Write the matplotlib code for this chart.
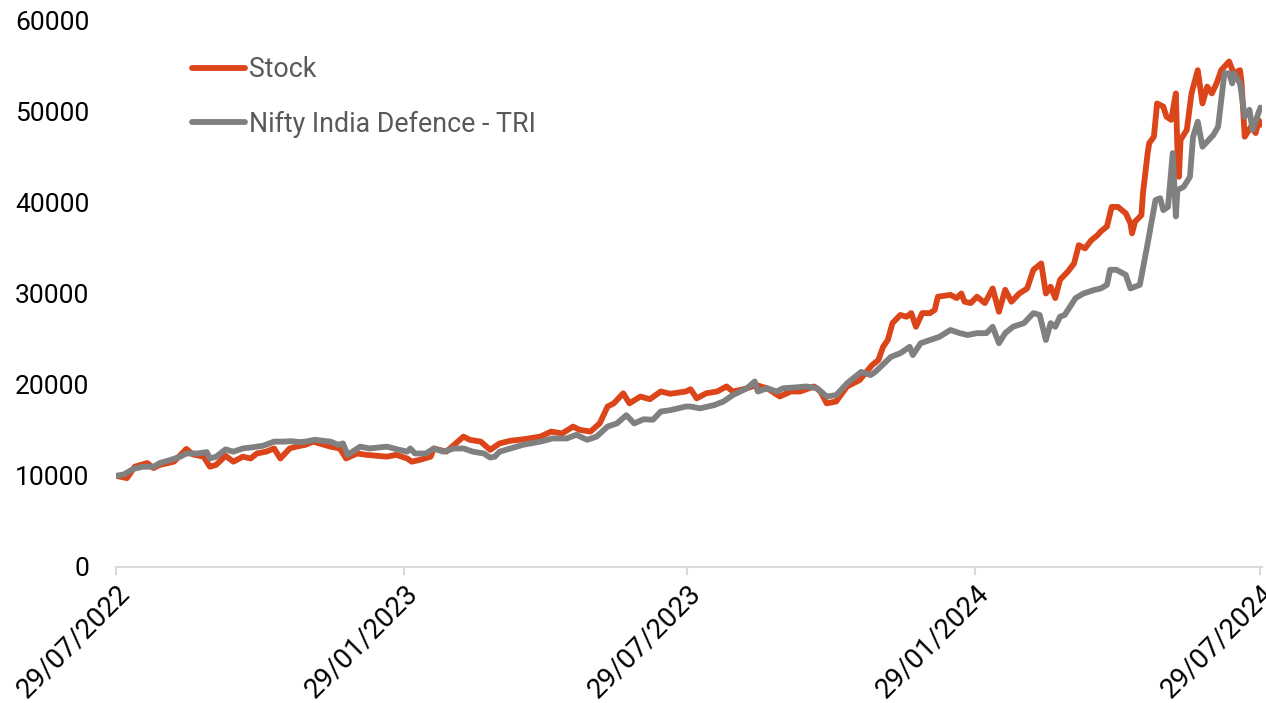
# Stock vs Nifty India Defence TRI, growth of 10000

import pandas as pd
import matplotlib.pyplot as plt
import matplotlib.dates as mdates

plt.rcParams['font.family'] = ['Roboto', 'DejaVu Sans']

start = pd.Timestamp('2022-07-29')

# days from start date, value of 10000 invested
stock_day = [0, 7, 12, 20, 24, 28, 37, 45, 49, 56, 60, 64, 70, 75, 81, 86, 90, 96, 101, 105,
             111, 115, 121, 126, 137, 143, 147, 154, 160, 173, 179, 186, 189, 194, 201, 203,
             211, 216, 222, 226, 233, 239, 245, 252, 260, 271, 278, 285, 292, 296, 303, 309,
             314, 318, 324, 328, 335, 341, 348, 354, 364, 367, 371, 377, 384, 390, 394, 401,
             409, 416, 424, 431, 437, 446, 450, 454, 460, 467, 475, 483, 487, 490, 493, 496,
             501, 505, 508, 511, 515, 520, 523, 525, 533, 537, 540, 542, 546, 550, 555, 560,
             564, 568, 572, 577, 582, 586, 591, 594, 597, 600, 603, 608, 612, 615, 619, 623,
             627, 629, 633, 636, 640, 645, 648, 649, 651, 655, 656, 659, 660, 663, 665, 669,
             671, 674, 677, 678, 679, 680, 684, 687, 691, 694, 697, 700, 703, 706, 711, 714,
             718, 719, 721, 725, 728, 730, 731]
stock_val = [10000, 9750, 11000, 11400, 10850, 11200, 11550, 12950, 12350, 12100, 11000, 11200,
             12200, 11550, 12100, 11900, 12450, 12650, 13000, 11900, 13000, 13200, 13400, 13750,
             13200, 13000, 11900, 12450, 12300, 12100, 12300, 11900, 11550, 11750, 12100, 13000,
             12650, 13400, 14300, 13950, 13750, 12850, 13550, 13850, 14000, 14300, 14850, 14650,
             15400, 15050, 14850, 15750, 17600, 17950, 19050, 17950, 18700, 18400, 19250, 19000,
             19250, 19500, 18500, 19050, 19250, 19800, 19250, 19500, 19950, 19600, 18700, 19250,
             19250, 19800, 19250, 17950, 18150, 19800, 20500, 22150, 22700, 24150, 24900, 26750,
             27650, 27450, 27850, 26350, 27850, 27850, 28200, 29650, 29850, 29500, 30000, 29100,
             28950, 29650, 28950, 30550, 28000, 30400, 29100, 30000, 30550, 32600, 33300, 30000,
             30750, 29500, 31500, 32400, 33300, 35300, 34950, 35850, 36400, 36800, 37350, 39500,
             39500, 38800, 37700, 36600, 37900, 38600, 41000, 45400, 46500, 47200, 50850, 50500,
             49400, 49050, 51950, 45750, 42800, 46850, 47950, 51950, 54500, 50850, 52700, 51950,
             53050, 54500, 55450, 54150, 54500, 53050, 47200, 48300, 47600, 49000, 48500]

index_day = [0, 5, 11, 17, 24, 28, 35, 41, 45, 52, 58, 60, 64, 70, 75, 81, 88, 94, 101, 107,
             112, 117, 121, 127, 137, 142, 145, 148, 156, 162, 173, 181, 186, 188, 191, 198,
             203, 209, 216, 222, 228, 235, 239, 242, 245, 252, 260, 271, 279, 288, 294, 301,
             307, 314, 320, 326, 331, 337, 343, 348, 354, 364, 367, 373, 382, 388, 394, 403,
             408, 410, 416, 422, 426, 434, 441, 448, 454, 460, 467, 476, 482, 485, 495, 501,
             507, 509, 514, 520, 526, 533, 539, 544, 550, 556, 560, 564, 568, 573, 580, 586,
             590, 594, 597, 600, 603, 606, 613, 618, 625, 629, 633, 635, 639, 645, 648, 654,
             659, 664, 667, 669, 672, 675, 677, 678, 682, 686, 688, 691, 694, 697, 701, 704,
             708, 711, 713, 714, 718, 721, 724, 726, 729, 731]
index_val = [10000, 10150, 10750, 11000, 11000, 11400, 11750, 12100, 12450, 12450, 12600, 11900,
             12100, 12900, 12650, 13000, 13150, 13300, 13750, 13750, 13800, 13700, 13750, 13950,
             13750, 13400, 13550, 12300, 13200, 13000, 13200, 12850, 12650, 13000, 12450, 12450,
             13000, 12650, 13000, 13000, 12650, 12450, 12000, 12100, 12650, 13000, 13400, 13750,
             14100, 14100, 14500, 13950, 14300, 15400, 15750, 16650, 15750, 16200, 16150, 17050,
             17200, 17600, 17600, 17400, 17750, 18150, 18850, 19600, 20350, 19250, 19600, 19250,
             19600, 19700, 19800, 19600, 18700, 18850, 20150, 21400, 21050, 21400, 23050, 23450,
             24150, 23250, 24550, 24900, 25250, 26000, 25650, 25450, 25650, 25650, 26350, 24550,
             25650, 26350, 26750, 27850, 27650, 24900, 26750, 26350, 27450, 27650, 29500, 30000,
             30400, 30550, 30950, 32600, 32600, 32050, 30550, 30950, 35500, 40250, 40450, 39150,
             39500, 45400, 38450, 41350, 41700, 42800, 47200, 48850, 46100, 46650, 47400, 48300,
             54150, 54150, 53050, 54150, 53050, 49400, 50150, 47950, 49400, 50400]

tick_dates = ['2022-07-29', '2023-01-29', '2023-07-29', '2024-01-29', '2024-07-29']

stock_dates = start + pd.to_timedelta(stock_day, unit='D')
index_dates = start + pd.to_timedelta(index_day, unit='D')

fig = plt.figure(figsize=(12.66, 7.03), dpi=100)
ax = fig.add_axes([0.0916, 0.1935, 0.9052, 0.778])

ax.plot(stock_dates, stock_val, color='#DC4419', lw=4.2, label='Stock',
        solid_joinstyle='round', solid_capstyle='round')
ax.plot(index_dates, index_val, color='#808080', lw=4.2, label='Nifty India Defence - TRI',
        solid_joinstyle='round', solid_capstyle='round')

ax.set_ylim(0, 60000)
ax.set_yticks(range(0, 60001, 10000))
ax.set_xlim(start, pd.Timestamp('2024-07-30'))
ax.set_xticks(pd.to_datetime(tick_dates))
ax.xaxis.set_major_formatter(mdates.DateFormatter('%d/%m/%Y'))

for s in ['top', 'right', 'left']:
    ax.spines[s].set_visible(False)
ax.spines['bottom'].set_color('#d9d9d9')
ax.spines['bottom'].set_linewidth(1.5)

ax.tick_params(axis='y', length=0, pad=19, labelsize=19, labelcolor='black')
ax.tick_params(axis='x', length=6, width=1.5, color='#d9d9d9', pad=3,
               labelsize=20, labelcolor='black')
plt.setp(ax.get_xticklabels(), rotation=45, ha='right', va='top', rotation_mode='anchor')

leg = ax.legend(loc='upper left', bbox_to_anchor=(0.066, 0.934), frameon=False,
                fontsize=19.3, handlelength=2.0, handletextpad=0.15,
                labelspacing=1.02, borderpad=0, borderaxespad=0)
for t in leg.get_texts():
    t.set_color('#595959')

plt.savefig('out.png', dpi=100)
